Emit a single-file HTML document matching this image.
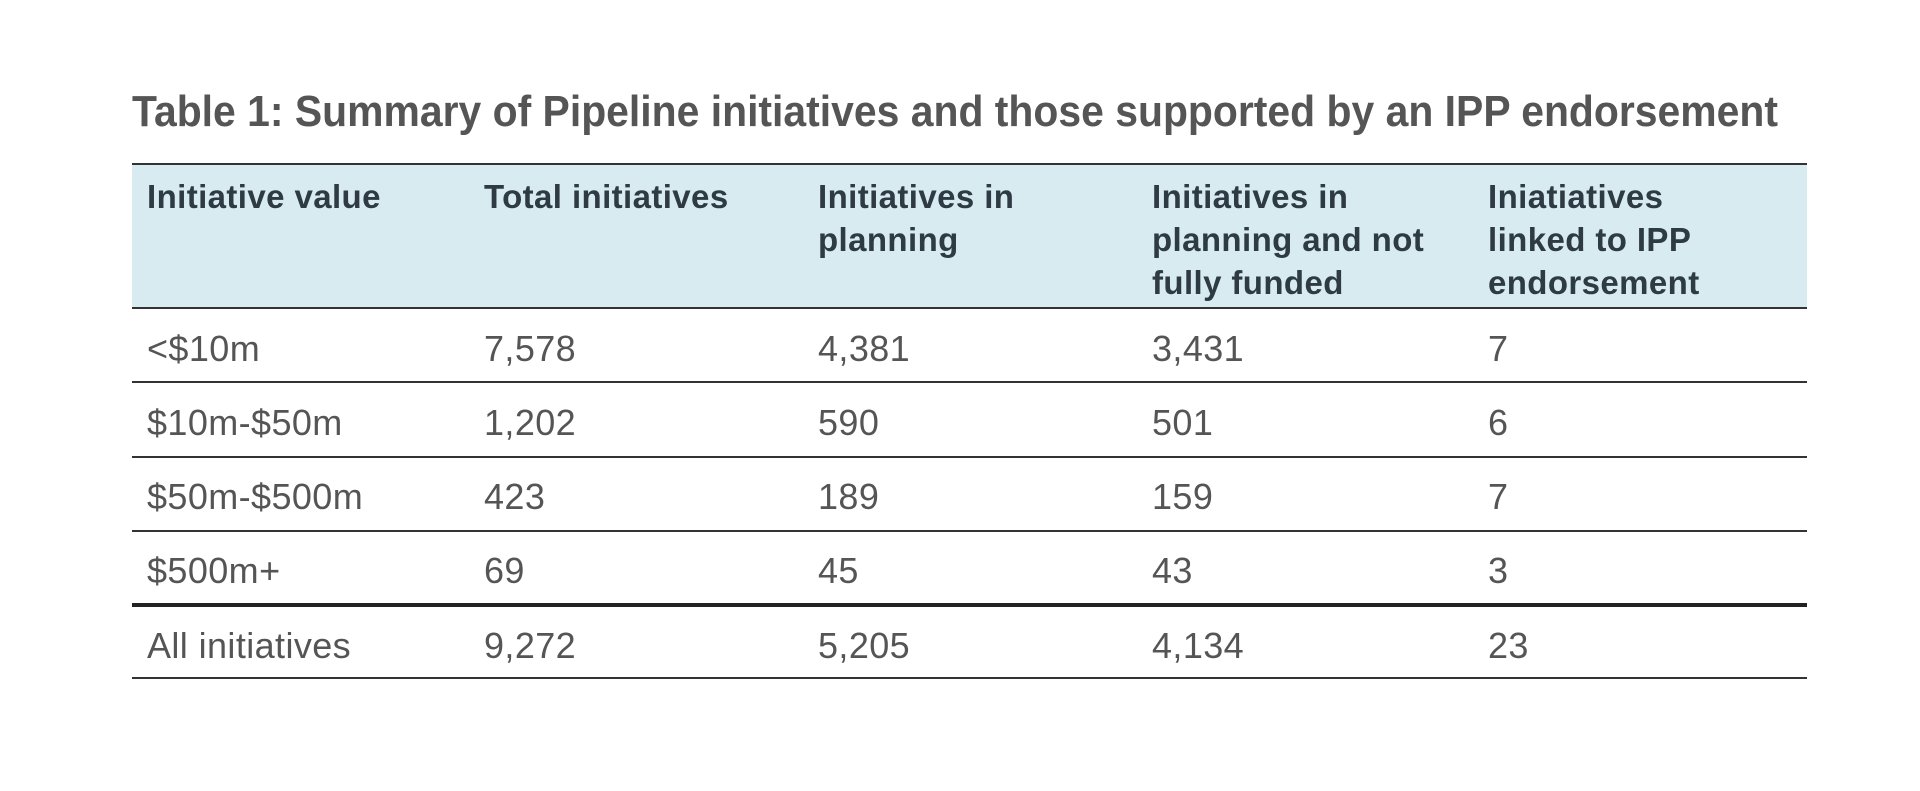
<!DOCTYPE html>
<html><head><meta charset="utf-8"><style>
html,body{margin:0;padding:0;background:#fff;}
svg{display:block;}
text{font-family:"Liberation Sans",sans-serif;}
.h{font-weight:bold;font-size:33px;fill:#2e3a44;letter-spacing:0.4px;}
.b{font-size:36px;fill:#555;letter-spacing:0.4px;}
</style></head><body>
<svg width="1920" height="791" viewBox="0 0 1920 791">
<text x="132" y="126" font-size="44" font-weight="bold" fill="#555" textLength="1646" lengthAdjust="spacingAndGlyphs">Table 1: Summary of Pipeline initiatives and those supported by an IPP endorsement</text>
<rect x="132" y="164" width="1675" height="143" fill="#d8ebf0"/>
<g stroke="#333" stroke-width="2">
<line x1="132" x2="1807" y1="164" y2="164"/>
<line x1="132" x2="1807" y1="308" y2="308"/>
<line x1="132" x2="1807" y1="382" y2="382"/>
<line x1="132" x2="1807" y1="457" y2="457"/>
<line x1="132" x2="1807" y1="531" y2="531"/>
<line x1="132" x2="1807" y1="678" y2="678"/>
</g>
<line x1="132" x2="1807" y1="605" y2="605" stroke="#222" stroke-width="4"/>
<g class="h">
<text x="147" y="208">Initiative value</text>
<text x="484" y="208">Total initiatives</text>
<text x="818" y="208">Initiatives in</text>
<text x="818" y="251">planning</text>
<text x="1152" y="208">Initiatives in</text>
<text x="1152" y="251">planning and not</text>
<text x="1152" y="294">fully funded</text>
<text x="1488" y="208">Iniatiatives</text>
<text x="1488" y="251">linked to IPP</text>
<text x="1488" y="294">endorsement</text>
</g>
<g class="b">
<text x="147" y="361">&lt;$10m</text><text x="484" y="361">7,578</text><text x="818" y="361">4,381</text><text x="1152" y="361">3,431</text><text x="1488" y="361">7</text>
<text x="147" y="435">$10m-$50m</text><text x="484" y="435">1,202</text><text x="818" y="435">590</text><text x="1152" y="435">501</text><text x="1488" y="435">6</text>
<text x="147" y="509">$50m-$500m</text><text x="484" y="509">423</text><text x="818" y="509">189</text><text x="1152" y="509">159</text><text x="1488" y="509">7</text>
<text x="147" y="583">$500m+</text><text x="484" y="583">69</text><text x="818" y="583">45</text><text x="1152" y="583">43</text><text x="1488" y="583">3</text>
<text x="147" y="658">All initiatives</text><text x="484" y="658">9,272</text><text x="818" y="658">5,205</text><text x="1152" y="658">4,134</text><text x="1488" y="658">23</text>
</g>
</svg>
</body></html>
